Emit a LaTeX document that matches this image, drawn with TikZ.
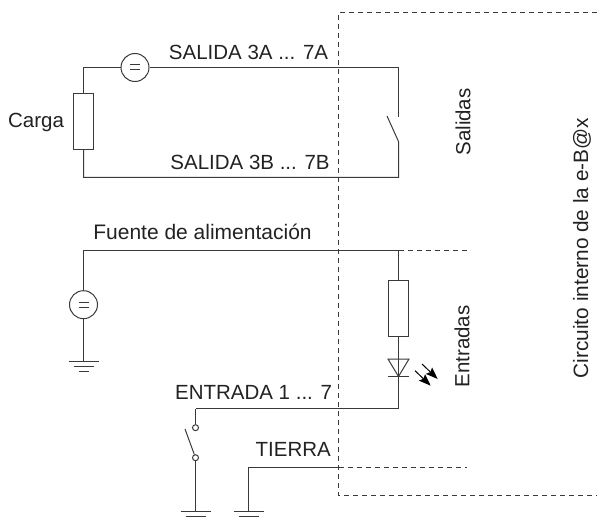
\documentclass[tikz,border=0pt]{standalone}
\usepackage{fontspec}
\setmainfont{Liberation Sans}
\definecolor{wire}{HTML}{3A3A3A}
\definecolor{texto}{HTML}{222222}
\usetikzlibrary{arrows.meta}
\tikzset{
	every node/.style={font=\fontsize{10.25pt}{12pt}\selectfont,text=texto},
	wireline/.style={draw=wire,line width=0.5pt},
	boundary/.style={wireline,dash pattern=on 2.6pt off 1.9pt},
	fuente/.style={wireline,circle,fill=white,inner sep=0pt,minimum size=14pt},
	carga/.style={wireline,rectangle,fill=white,inner sep=0pt,minimum width=10.2pt,minimum height=28pt},
	contacto/.style={wireline,circle,fill=white,inner sep=0pt,minimum size=3pt},
	rayo/.style={draw=black,line width=0.5pt,-{Stealth[length=6pt,width=4.4pt,inset=1pt,black]}},
}
\newcommand{\iguales}[1]{
	\draw[wireline] ([shift={(-5,-2.5)}]#1.center) -- ++(10,0);
	\draw[wireline] ([shift={(-5,2.5)}]#1.center) -- ++(10,0);
}
\newcommand{\masa}[1]{
	\draw[wireline] ([shift={(-15,0)}]#1) -- ++(30,0);
	\draw[wireline] ([shift={(-10,5)}]#1) -- ++(20,0);
	\draw[wireline] ([shift={(-5,10)}]#1) -- ++(10,0);
}
\begin{document}
\begin{tikzpicture}[x=0.5pt,y=-0.5pt]
	\useasboundingbox (0,0) rectangle (599,518);
	% puntos de la salida
	\coordinate (topleft) at (83.5,67.5);
	\coordinate (topright) at (398.5,67.5);
	\coordinate (botleft) at (83.5,177.5);
	\coordinate (botright) at (398.5,177.5);
	\coordinate (swA) at (398.5,117);
	\coordinate (swB) at (398.5,141.5);
	\coordinate (swC) at (387,116);
	\node[fuente] (srcA) at (135,67.5) {};
	\node[carga] (loadA) at (83.5,121.3) {};
	\draw[wireline] (loadA) -- (topleft) -- (srcA);
	\draw[wireline] (srcA) -- (topright) -- (swA);
	\draw[wireline] (swC) -- (swB) -- (botright) -- (botleft) -- (loadA);
	\iguales{srcA}
	% entradas
	\coordinate (fuleft) at (83.5,250.5);
	\coordinate (furight) at (398.5,250.5);
	\coordinate (fuend) at (467,250.5);
	\coordinate (gndB) at (83.5,361.5);
	\node[fuente] (srcB) at (83.5,304.7) {};
	\node[carga] (loadB) at (398.5,308) {};
	\draw[wireline] (srcB) -- (fuleft) -- (furight) -- (loadB);
	\draw[wireline] (srcB) -- (gndB);
	\draw[boundary] (furight) -- (fuend);
	\iguales{srcB}
	\masa{gndB}
	% led
	\coordinate (ledA) at (398.5,376.5);
	\coordinate (ledL) at (388,359);
	\coordinate (ledR) at (409,359);
	\coordinate (barL) at (388,376.5);
	\coordinate (barR) at (409,376.5);
	\coordinate (entR) at (398.5,408.5);
	\coordinate (entL) at (195.5,408.5);
	\coordinate (rayA) at (422,364);
	\coordinate (rayB) at (437.7,379);
	\coordinate (rayC) at (415,370.7);
	\coordinate (rayD) at (430.7,385.7);
	\draw[wireline] (loadB) -- (ledA) -- (entR) -- (entL);
	\draw[wireline] (ledL) -- (ledR) -- (ledA) -- cycle;
	\draw[wireline] (barL) -- (barR);
	\draw[rayo] (rayA) -- (rayB);
	\draw[rayo] (rayC) -- (rayD);
	% pulsador y tierra
	\coordinate (gndC) at (195.5,511.5);
	\coordinate (gndD) at (248.5,511.5);
	\coordinate (tiL) at (248.5,467.5);
	\coordinate (tiM) at (338.5,467.5);
	\coordinate (tiE) at (467,467.5);
	\coordinate (blade) at (185,429);
	\node[contacto] (conA) at (195.5,427.7) {};
	\node[contacto] (conB) at (195.5,457.7) {};
	\draw[wireline] (entL) -- (conA);
	\draw[wireline] (conB) -- (gndC);
	\draw[wireline] (blade) -- (conB);
	\draw[wireline] (gndD) -- (tiL) -- (tiM);
	\draw[boundary] (tiM) -- (tiE);
	\masa{gndC}
	\masa{gndD}
	% circuito interno
	\coordinate (boxA) at (597,12.5);
	\coordinate (boxB) at (338.5,12.5);
	\coordinate (boxC) at (338.5,495.5);
	\coordinate (boxD) at (597,495.5);
	\draw[boundary] (boxA) -- (boxB) -- (boxC) -- (boxD);
	% textos
	\node (lblA) at (248.5,52) {SALIDA 3A ... 7A};
	\node (lblB) at (250,162) {SALIDA 3B ... 7B};
	\node (lblC) at (36,122.6) {Carga};
	\node[font=\fontsize{10.5pt}{12pt}\selectfont] (lblD) at (202.5,232) {Fuente de alimentación};
	\node (lblE) at (253.5,392.6) {ENTRADA 1 ... 7};
	\node (lblF) at (293.3,449.3) {TIERRA};
	\node[rotate=90] (lblG) at (463,122) {Salidas};
	\node[rotate=90] (lblH) at (462,346.5) {Entradas};
	\node[rotate=90,font=\fontsize{10.4pt}{12pt}\selectfont] (lblI) at (582,248) {Circuito interno de la e-B@x};
\end{tikzpicture}
\end{document}
